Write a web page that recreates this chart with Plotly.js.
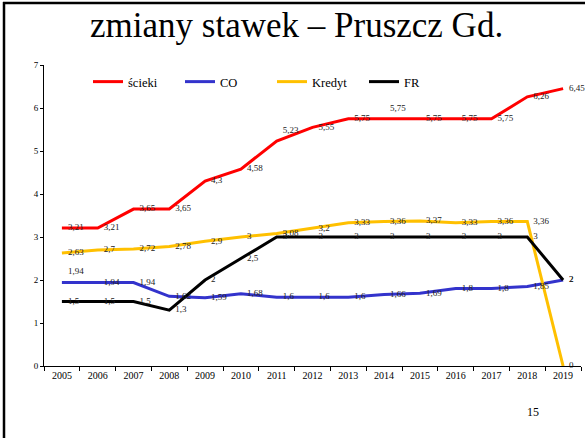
<!DOCTYPE html>
<html>
<head>
<meta charset="utf-8">
<script src="https://cdn.plot.ly/plotly-3.0.1.min.js"></script>
<style>
html,body{margin:0;padding:0;background:#fff;}
#chart{width:585px;height:438px;}
</style>
</head>
<body>
<div id="chart"></div>
<script>
const years = ['2005','2006','2007','2008','2009','2010','2011','2012','2013','2014','2015','2016','2017','2018','2019'];
const scieki = [3.21,3.21,3.65,3.65,4.3,4.58,5.23,5.55,5.75,5.75,5.75,5.75,5.75,6.26,6.45];
const co     = [1.94,1.94,1.94,1.62,1.59,1.68,1.6,1.6,1.6,1.66,1.69,1.8,1.8,1.85,2];
const kredyt = [2.63,2.7,2.72,2.78,2.9,3,3.08,3.2,3.33,3.36,3.37,3.33,3.36,3.36,0];
const fr     = [1.5,1.5,1.5,1.3,2,2.5,3,3,3,3,3,3,3,3,2];
const seriesNames = ['ścieki','CO','Kredyt','FR'];
const yTicks = [0,1,2,3,4,5,6,7];

const SERIF = '"Liberation Serif", "Times New Roman", serif';
const colors = ['#FF0000','#3333CC','#FFC000','#000000'];
const allSeries = [scieki, co, kredyt, fr];
const fmt = v => String(v).replace('.', ',');

const posFor = [
  years.map((_, i) => (i === 6 || i === 9) ? 'top right' : 'middle right'),
  years.map((_, i) => i === 0 ? 'top right' : 'middle right'),
  years.map(() => 'middle right'),
  years.map(() => 'middle right')
];

const traces = [];
allSeries.forEach((s, k) => {
  traces.push({
    x: years, y: s, type: 'scatter', mode: 'lines', name: seriesNames[k],
    line: {color: colors[k], width: 3}, showlegend: true, cliponaxis: false
  });
});
allSeries.forEach((s, k) => {
  traces.push({
    x: years, y: s, type: 'scatter', mode: 'markers+text',
    marker: {size: 8, color: 'rgba(0,0,0,0)'},
    text: s.map(fmt), textposition: posFor[k],
    textfont: {family: SERIF, size: 9, color: '#222'},
    showlegend: false, hoverinfo: 'skip', cliponaxis: false
  });
});

const L = 44, R = 4, T = 65, B = 72, W = 585, H = 438;
const pw = W - L - R, ph = H - T - B;
const px = p => (p - L) / pw;
const py = p => (H - B - p) / ph;

const layout = {
  width: W, height: H,
  margin: {l: L, r: R, t: T, b: B},
  paper_bgcolor: '#fff', plot_bgcolor: '#fff',
  font: {family: SERIF, color: '#000'},
  title: {
    text: 'zmiany stawek – Pruszcz Gd.',
    font: {family: SERIF, size: 35, color: '#000'},
    x: 0.507, xanchor: 'center', xref: 'container',
    y: 1 - 25 / H, yanchor: 'middle', yref: 'container'
  },
  xaxis: {
    type: 'category', range: [-0.5, 14.5],
    showline: true, linecolor: '#000', linewidth: 1,
    ticks: 'outside', ticklen: 4, tickcolor: '#000', tickson: 'boundaries',
    showgrid: false, zeroline: false,
    tickfont: {family: SERIF, size: 10, color: '#000'},
    fixedrange: true
  },
  yaxis: {
    range: [0, 7], tickvals: yTicks,
    showline: true, linecolor: '#000', linewidth: 1,
    ticks: 'outside', ticklen: 3, tickcolor: '#000',
    showgrid: false, zeroline: false,
    tickfont: {family: SERIF, size: 9, color: '#000'},
    fixedrange: true
  },
  showlegend: true,
  legend: {
    orientation: 'h', x: px(88), xanchor: 'left', y: py(82), yanchor: 'middle',
    entrywidth: 47, entrywidthmode: 'pixels',
    font: {family: SERIF, size: 12.5, color: '#000'},
    bgcolor: 'rgba(0,0,0,0)', borderwidth: 0
  },
  shapes: [
    {type: 'line', xref: 'paper', yref: 'paper', x0: px(4), x1: px(4), y0: py(2), y1: py(438), line: {color: '#000', width: 2.5}},
    {type: 'line', xref: 'paper', yref: 'paper', x0: px(3), x1: px(585), y0: py(3), y1: py(3), line: {color: '#000', width: 2.5}}
  ],
  annotations: [
    {text: '15', xref: 'paper', yref: 'paper', x: px(533), y: py(412), xanchor: 'center', yanchor: 'middle', showarrow: false,
     font: {family: SERIF, size: 12, color: '#000'}}
  ]
};

Plotly.newPlot('chart', traces, layout, {staticPlot: true, displayModeBar: false});
</script>
</body>
</html>
